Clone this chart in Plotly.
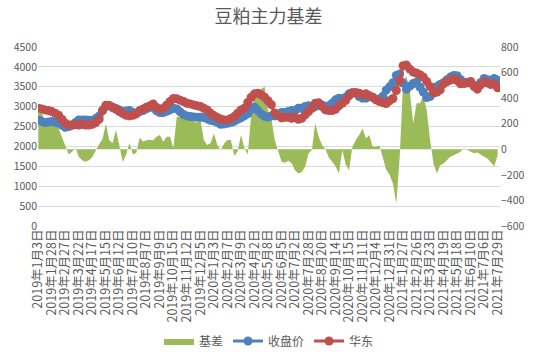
import plotly.graph_objects as go

# Sampled trading dates (category axis)
dates = [
    "2019-01-03", "2019-01-09", "2019-01-15", "2019-01-22", "2019-01-28", "2019-02-01", "2019-02-14", "2019-02-21",
    "2019-02-27", "2019-03-05", "2019-03-11", "2019-03-15", "2019-03-22", "2019-03-28", "2019-04-03", "2019-04-11",
    "2019-04-17", "2019-04-23", "2019-04-29", "2019-05-09", "2019-05-15", "2019-05-21", "2019-05-28", "2019-06-04",
    "2019-06-12", "2019-06-18", "2019-06-25", "2019-07-03", "2019-07-10", "2019-07-16", "2019-07-23", "2019-07-31",
    "2019-08-07", "2019-08-13", "2019-08-20", "2019-08-29", "2019-09-09", "2019-09-16", "2019-09-24", "2019-10-09",
    "2019-10-15", "2019-10-21", "2019-10-28", "2019-11-05", "2019-11-12", "2019-11-18", "2019-11-22", "2019-11-29",
    "2019-12-05", "2019-12-11", "2019-12-18", "2019-12-25", "2020-01-03", "2020-01-10", "2020-01-17", "2020-02-04",
    "2020-02-07", "2020-02-13", "2020-02-20", "2020-02-28", "2020-03-09", "2020-03-13", "2020-03-19", "2020-03-26",
    "2020-04-02", "2020-04-09", "2020-04-17", "2020-04-27", "2020-05-08", "2020-05-14", "2020-05-21", "2020-05-28",
    "2020-06-05", "2020-06-11", "2020-06-17", "2020-06-24", "2020-07-02", "2020-07-08", "2020-07-14", "2020-07-21",
    "2020-07-28", "2020-08-03", "2020-08-07", "2020-08-14", "2020-08-20", "2020-08-26", "2020-09-01", "2020-09-08",
    "2020-09-14", "2020-09-18", "2020-09-24", "2020-09-30", "2020-10-15", "2020-10-21", "2020-10-28", "2020-11-04",
    "2020-11-11", "2020-11-17", "2020-11-23", "2020-11-27", "2020-12-04", "2020-12-10", "2020-12-16", "2020-12-23",
    "2020-12-31", "2021-01-08", "2021-01-14", "2021-01-21", "2021-01-27", "2021-02-02", "2021-02-08", "2021-02-19",
    "2021-02-26", "2021-03-04", "2021-03-10", "2021-03-17", "2021-03-23", "2021-03-29", "2021-04-02", "2021-04-12",
    "2021-04-19", "2021-04-23", "2021-04-29", "2021-05-11", "2021-05-18", "2021-05-24", "2021-05-28", "2021-06-03",
    "2021-06-10", "2021-06-17", "2021-06-23", "2021-06-29", "2021-07-06", "2021-07-12", "2021-07-16", "2021-07-22",
    "2021-07-29",
]

# 收盘价 (left axis)
close_price = [
    2667, 2625, 2600, 2616, 2625, 2608, 2583, 2532, 2482, 2499, 2540, 2600, 2667, 2667, 2667, 2658,
    2650, 2700, 2768, 2902, 3003, 3020, 2978, 2953, 2919, 2877, 2894, 2902, 2852, 2835, 2877, 2902,
    2944, 2978, 3020, 2894, 2852, 2852, 2885, 2919, 2961, 2944, 2869, 2801, 2768, 2751, 2742, 2734,
    2734, 2726, 2692, 2658, 2641, 2608, 2557, 2566, 2583, 2608, 2633, 2683, 2717, 2768, 2818, 2936,
    2986, 2902, 2818, 2760, 2740, 2768, 2768, 2801, 2852, 2852, 2877, 2902, 2902, 2961, 2961, 3003,
    3020, 3003, 3003, 3045, 3045, 3003, 3020, 3087, 3171, 3214, 3197, 3238, 3323, 3356, 3340, 3256,
    3214, 3214, 3272, 3238, 3188, 3190, 3260, 3415, 3499, 3600, 3785, 3820, 3592, 3440, 3516, 3583,
    3617, 3491, 3365, 3230, 3256, 3340, 3508, 3558, 3600, 3676, 3743, 3785, 3777, 3684, 3608, 3592,
    3608, 3533, 3524, 3608, 3709, 3676, 3651, 3709, 3667,
]

# 华东 (left axis)
east_china = [
    2960, 2944, 2919, 2902, 2877, 2835, 2785, 2683, 2583, 2540, 2540, 2550, 2540, 2557, 2540, 2540,
    2557, 2600, 2683, 2902, 3037, 3028, 2986, 2936, 2877, 2826, 2785, 2768, 2785, 2818, 2902, 2944,
    2986, 3020, 3070, 2978, 2936, 2961, 3045, 3129, 3205, 3197, 3163, 3129, 3087, 3070, 3045, 3020,
    3003, 2961, 2919, 2835, 2776, 2726, 2692, 2667, 2667, 2700, 2751, 2835, 2919, 2961, 3104, 3238,
    3323, 3340, 3298, 3238, 3150, 3050, 2843, 2776, 2717, 2734, 2734, 2709, 2734, 2683, 2709, 2793,
    2877, 2961, 3087, 3096, 3003, 2919, 2902, 2902, 2936, 3020, 3087, 3154, 3272, 3340, 3356, 3340,
    3298, 3323, 3272, 3238, 3171, 3129, 3100, 3080, 3150, 3205, 3407, 3659, 4029, 4046, 3945, 3869,
    3844, 3802, 3743, 3634, 3508, 3356, 3365, 3424, 3575, 3634, 3667, 3701, 3659, 3575, 3583, 3608,
    3634, 3508, 3440, 3550, 3625, 3592, 3558, 3575, 3474,
]

# 基差 (right axis)
basis = [
    340, 300, 203, 190, 190, 182, 163, 98, 20, -40, -20, 10, -60, -85, -98, -85,
    -60, -5, 40, 80, 200, 70, 50, 150, 20, -100, -40, 50, -40, -30, 90, 60,
    70, 75, 70, 98, 111, 59, 98, 98, 10, 255, 255, 242, 229, 229, 216, 208,
    229, 72, 33, 50, 124, 33, -10, 46, 72, 72, -50, -20, 111, 10, -40, 255,
    439, 457, 470, 490, 300, 240, 72, -10, -98, -106, -90, -110, -163, -190, -177, -137,
    -33, -5, 203, 98, 33, 0, -64, -98, -132, -190, -6, -117, -163, 20, 72, 111,
    163, 85, 111, 20, 20, 30, -60, -160, -200, -268, -425, -60, 517, 574, 451, 203,
    360, 360, 412, 307, 72, -111, -190, -124, -111, -85, -59, -46, -33, -20, 8, -5,
    -18, -31, -26, -46, -59, -72, -98, -132, -46,
]

# Axis tick dates and labels
tick_dates = [
    "2019-01-03", "2019-01-28", "2019-02-27", "2019-03-22", "2019-04-17", "2019-05-15", "2019-06-12",
    "2019-07-10", "2019-08-07", "2019-09-09", "2019-10-15", "2019-11-12", "2019-12-05", "2020-01-03",
    "2020-02-07", "2020-03-09", "2020-04-02", "2020-05-08", "2020-06-05", "2020-07-02", "2020-07-28",
    "2020-08-20", "2020-09-14", "2020-10-15", "2020-11-11", "2020-12-04", "2020-12-31", "2021-01-27",
    "2021-02-26", "2021-03-23", "2021-04-19", "2021-05-18", "2021-06-10", "2021-07-06", "2021-07-29",
]
tick_labels = [
    "2019年1月3日", "2019年1月28日", "2019年2月27日", "2019年3月22日", "2019年4月17日", "2019年5月15日",
    "2019年6月12日", "2019年7月10日", "2019年8月7日", "2019年9月9日", "2019年10月15日", "2019年11月12日",
    "2019年12月5日", "2020年1月3日", "2020年2月7日", "2020年3月9日", "2020年4月2日", "2020年5月8日",
    "2020年6月5日", "2020年7月2日", "2020年7月28日", "2020年8月20日", "2020年9月14日", "2020年10月15日",
    "2020年11月11日", "2020年12月4日", "2020年12月31日", "2021年1月27日", "2021年2月26日", "2021年3月23日",
    "2021年4月19日", "2021年5月18日", "2021年6月10日", "2021年7月6日", "2021年7月29日",
]

FONT = "Noto Sans CJK SC"
GREY = "#595959"
GREEN = "#9BBB59"
BLUE = "#4F81BD"
RED = "#C0504D"

fig = go.Figure()
fig.add_trace(go.Scatter(
    x=dates, y=basis, name="基差", mode="lines", line=dict(width=0, color=GREEN),
    fill="tozeroy", fillcolor=GREEN, yaxis="y",
))
fig.add_trace(go.Scatter(
    x=dates, y=close_price, name="收盘价", mode="lines+markers",
    line=dict(color=BLUE, width=3), marker=dict(color=BLUE, size=9), yaxis="y2",
))
fig.add_trace(go.Scatter(
    x=dates, y=east_china, name="华东", mode="lines+markers",
    line=dict(color=RED, width=3), marker=dict(color=RED, size=9), yaxis="y2",
))

fig.update_layout(
    width=537, height=356,
    margin=dict(l=38, r=37, t=47, b=130, autoexpand=False),
    paper_bgcolor="white", plot_bgcolor="white",
    font=dict(family=FONT, color=GREY, size=11),
    title=dict(text="豆粕主力基差", x=0.5, xanchor="center", y=1 - 17 / 356, yanchor="middle",
               font=dict(size=18, color=GREY, family=FONT)),
    showlegend=True,
    legend=dict(orientation="h", x=0.5, xanchor="center", yref="container", y=1 - 341 / 356,
                yanchor="middle", font=dict(size=12, color=GREY), traceorder="normal",
                bgcolor="rgba(0,0,0,0)"),
    xaxis=dict(type="category", tickmode="array", tickvals=tick_dates, ticktext=tick_labels,
               tickangle=-90, showgrid=False, zeroline=False, showline=False,
               ticks="", tickfont=dict(size=12.5, color=GREY), range=[-0.1, 136.7], automargin=False),
    yaxis=dict(side="right", range=[-600, 800], dtick=200, showgrid=False, zeroline=False,
               ticks="", tickfont=dict(size=10.5, color=GREY), automargin=False),
    yaxis2=dict(side="left", overlaying="y", range=[0, 4500], dtick=500, showgrid=True,
                gridcolor="#d9d9d9", gridwidth=1, zeroline=False, ticks="",
                tickfont=dict(size=10.5, color=GREY), automargin=False),
)

fig.write_html("out.html", config={"displayModeBar": False},
               post_script="document.body.style.margin='0';")
